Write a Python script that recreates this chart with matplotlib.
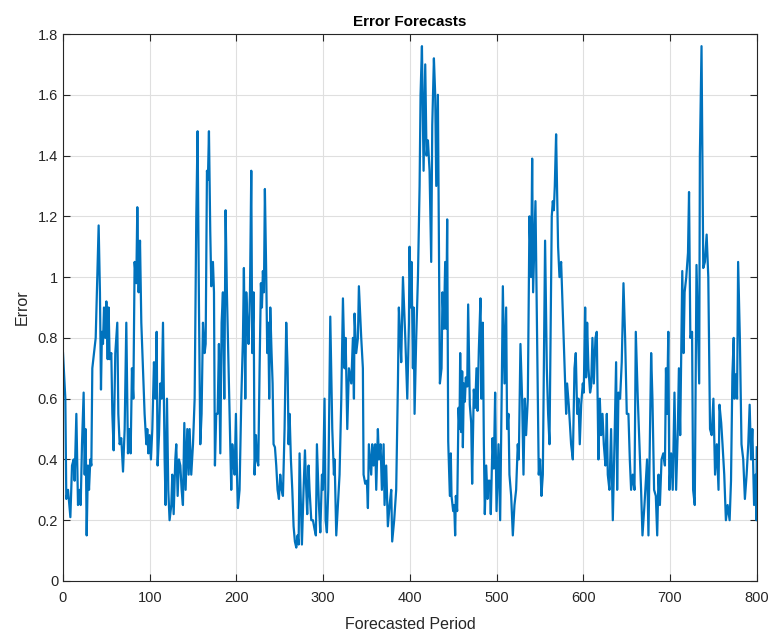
import matplotlib
matplotlib.use("Agg")
import matplotlib.pyplot as plt

# forecast error curve, peaks and troughs
period = [
    0, 2.7, 3.8, 5.8, 8.5, 10.4, 12.3, 13.4, 15.4, 17.3, 19.2, 20.4, 21.9, 23.8, 25.0, 26.1,
    27.3, 28.8, 30.0, 31.5, 32.7, 33.8, 35.7, 37.7, 39.6, 41.1, 42.6, 43.8, 44.9, 46.1, 47.3,
    48.8, 50.0, 51.5, 52.6, 53.8, 55.7, 56.9, 58.4, 60.3, 62.6, 63.8, 65.3, 67.2, 69.2, 71.1,
    73.0, 74.9, 76.8, 78.0, 79.5, 81.1, 82.6, 84.5, 85.7, 87.2, 88.8, 90.3, 92.2,
    94.1, 96.1, 97.2, 98.4, 99.9, 101.4, 103.0, 104.9, 106.4, 108.0, 109.1, 110.7, 112.2,
    113.7, 115.3, 117.2, 118.3, 119.9, 121.4, 122.9, 124.9, 126.0, 127.6, 129.5, 130.6,
    132.2, 133.7, 135.3, 136.8, 138.3, 139.9, 141.4, 143.3, 144.9, 146.0, 147.9, 149.9,
    151.8, 153.7, 155.2, 156.8, 158.3, 159.8, 161.4, 163.3, 164.5, 166.0, 167.1, 168.3,
    169.8, 171.0, 172.9, 174.1, 175.2, 176.7, 178.3, 179.8, 181.4, 182.9, 184.4, 186.0,
    187.5, 189.0, 190.6,
    192.1, 194.0, 195.2, 196.7, 197.9, 199.4, 200.6, 201.7, 203.6, 205.6, 207.5, 208.6,
    210.2, 211.3, 212.5, 214.0, 215.6, 217.1, 218.2, 219.8, 220.9, 222.5, 223.6, 225.2,
    226.7, 228.2, 229.4, 230.5, 231.7, 232.8, 234.4, 235.5, 236.7, 237.8, 239.0, 240.5,
    241.7, 242.8, 244.4, 245.9, 247.4, 249.0, 250.5, 252.1, 253.6, 255.5, 257.4, 259.0,
    260.1, 261.3, 262.8, 264.4, 265.9, 267.4, 269.0, 270.5, 271.7, 272.8, 274.3, 275.5,
    277.4, 279.0, 280.5, 281.6, 283.2, 284.3, 286.3, 288.2, 290.1, 291.6, 292.8,
    295.1, 296.7, 298.6, 299.7, 301.6, 302.8, 304.3, 305.9, 308.2, 310.5, 312.4, 313.2,
    315.1, 318.9, 320.9, 322.8, 324.7, 325.9, 327.8, 329.7, 332.4, 334.3, 335.5, 336.2,
    338.1, 340.1, 341.2, 343.9, 345.8, 346.6, 348.5, 350.4, 351.6, 352.7, 355.4, 356.6,
    358.1, 360.0, 361.2, 363.1, 364.3, 366.2, 367.7, 369.7, 370.8, 372.7, 374.6, 376.6,
    378.5, 379.6, 381.9, 384.2, 386.2, 387.3, 388.9, 390.0, 392.0,
    394.7, 397.0, 398.9, 399.6, 400.8, 401.9, 403.5, 404.3, 405.4, 407.3, 409.3, 411.2,
    412.3, 413.9, 415.8, 417.7, 419.2, 420.8, 422.7, 424.6, 425.8, 427.7, 429.2, 430.4,
    432.3,
    434.6, 436.5, 437.6, 439.2, 440.7, 441.9, 443.0, 444.2, 446.1, 447.2, 448.0, 449.9,
    451.1, 452.2, 453.0, 454.5, 456.1, 457.2, 458.0, 459.1, 460.3, 461.1, 462.2, 463.4,
    464.5, 466.1, 467.2, 469.1, 470.7, 471.8, 473.7, 475.3, 476.8, 478.0, 479.5, 481.4,
    482.6, 484.1, 485.3, 486.4, 488.0, 489.5, 490.6, 492.2, 493.3, 495.3, 496.8, 498.3,
    499.9,
    502.2, 504.1, 506.0, 507.2,
    509.1, 511.0, 512.1, 513.7, 514.8, 516.8, 518.7, 520.6, 522.5, 524.4, 525.6, 527.5,
    529.4, 531.0, 532.5, 534.0, 536.0, 537.9, 539.8, 541.0, 542.1, 544.8, 547.5, 548.6,
    550.2, 551.7, 553.3, 555.9, 557.9, 559.4, 561.0, 563.6, 564.8, 566.0, 567.1, 568.6,
    570.9, 572.5, 574.4, 578.2, 580.2, 581.3, 583.2, 585.9,
    587.9, 589.8, 591.3, 592.9, 594.4, 595.9, 597.5, 599.4, 600.5, 602.1, 603.2, 604.4,
    605.9, 607.8, 609.0, 610.5, 612.1, 614.0, 615.5, 617.4, 619.0, 620.5, 622.1, 623.6,
    625.5, 627.1, 628.2, 630.1, 632.0, 634.0, 635.9, 637.8, 639.0, 640.5, 642.4, 644.3,
    646.3, 648.2, 650.1, 652.0, 653.6, 655.1, 657.0, 659.0, 660.5, 662.8, 664.7, 666.6,
    668.2, 670.5, 673.5, 675.1, 678.2, 679.7, 681.6, 683.6, 685.2, 686.7, 688.3, 690.2,
    692.2, 694.1, 695.3, 696.5, 698.0, 699.2, 701.2, 703.1, 705.1, 707.0, 709.0, 710.2,
    711.7, 714.1, 715.6, 716.8, 718.7, 720.7, 721.9, 723.4, 725.4, 726.6, 728.5, 730.5,
    732.4, 733.6, 734.4, 736.3, 738.3, 740.2, 742.2, 744.1, 746.1, 748.0, 750.0, 751.9,
    753.9, 755.9, 757.0, 759.0, 760.5, 762.5, 764.4, 766.4, 768.7, 770.3, 771.9, 773.4,
    774.2, 775.8, 777.3, 778.5, 780.5, 782.4, 784.4, 786.3, 788.3, 790.2, 791.8, 793.4,
    794.9, 796.1, 796.9, 798.8, 799.6, 800,
]

error = [
    0.75, 0.6, 0.27, 0.3, 0.21, 0.38, 0.4, 0.33, 0.55, 0.25, 0.3, 0.25, 0.45, 0.62, 0.35, 0.5,
    0.15, 0.38, 0.3, 0.4, 0.38, 0.7, 0.75, 0.8, 1.0, 1.17, 0.95, 0.63, 0.82, 0.78, 0.9,
    0.8, 0.92, 0.73, 0.9, 0.73, 0.75, 0.55, 0.43, 0.75, 0.85, 0.55, 0.45, 0.47, 0.36, 0.5,
    0.85, 0.42, 0.5, 0.42, 0.7, 0.6, 1.05, 0.98, 1.23, 0.95, 1.12, 0.85, 0.7,
    0.55, 0.45, 0.5, 0.42, 0.48, 0.4, 0.5, 0.72, 0.6, 0.82, 0.38, 0.48, 0.65,
    0.6, 0.85, 0.4, 0.25, 0.6, 0.3, 0.2, 0.25, 0.35, 0.22, 0.4, 0.45,
    0.28, 0.4, 0.38, 0.3, 0.25, 0.52, 0.3, 0.5, 0.35, 0.5, 0.35, 0.45,
    0.6, 1.2, 1.48, 0.9, 0.45, 0.55, 0.85, 0.75, 0.78, 1.35, 1.32, 1.48,
    1.15, 0.97, 1.05, 0.95, 0.38, 0.55, 0.55, 0.78, 0.42, 0.85, 0.95, 0.6,
    1.22, 0.95, 0.75,
    0.55, 0.3, 0.45, 0.38, 0.35, 0.55, 0.35, 0.24, 0.3, 0.6, 0.8, 1.03,
    0.6, 0.95, 0.85, 0.78, 0.95, 1.35, 0.75, 0.95, 0.35, 0.48, 0.4, 0.38,
    0.7, 0.98, 0.9, 1.02, 0.95, 1.29, 1.0, 0.75, 0.85, 0.6, 0.9, 0.75,
    0.65, 0.45, 0.44, 0.38, 0.3, 0.27, 0.35, 0.3, 0.28, 0.5, 0.85, 0.7,
    0.45, 0.55, 0.4, 0.3, 0.18, 0.13, 0.11, 0.15, 0.12, 0.42, 0.25, 0.12,
    0.3, 0.43, 0.3, 0.22, 0.38, 0.3, 0.2, 0.2, 0.17, 0.15, 0.45,
    0.25, 0.16, 0.35, 0.3, 0.6, 0.2, 0.16, 0.3, 0.87, 0.5, 0.35, 0.4,
    0.15, 0.35, 0.6, 0.93, 0.7, 0.8, 0.5, 0.7, 0.65, 0.8, 0.6, 0.88,
    0.75, 0.8, 0.97, 0.8, 0.7, 0.35, 0.32, 0.33, 0.24, 0.45, 0.35, 0.45,
    0.38, 0.45, 0.3, 0.5, 0.4, 0.45, 0.3, 0.45, 0.25, 0.38, 0.18, 0.25,
    0.3, 0.13, 0.2, 0.3, 0.65, 0.9, 0.8, 0.72, 1.0,
    0.8, 0.6, 0.85, 1.1, 0.9, 1.05, 0.7, 0.9, 0.55, 0.8, 1.0, 1.3,
    1.6, 1.76, 1.35, 1.7, 1.4, 1.45, 1.35, 1.05, 1.5, 1.72, 1.6, 1.3,
    1.6,
    0.65, 0.7, 0.95, 0.83, 1.05, 0.83, 1.19, 0.46, 0.28, 0.42, 0.28, 0.23,
    0.25, 0.15, 0.28, 0.23, 0.57, 0.5, 0.75, 0.49, 0.69, 0.44, 0.65, 0.59,
    0.67, 0.64, 0.91, 0.58, 0.52, 0.32, 0.63, 0.57, 0.7, 0.56, 0.76, 0.93,
    0.6, 0.85, 0.45, 0.22, 0.38, 0.27, 0.33, 0.33, 0.22, 0.47, 0.37, 0.62,
    0.23,
    0.45, 0.2, 0.65, 0.97,
    0.65, 0.9, 0.5, 0.55, 0.35, 0.28, 0.15, 0.25, 0.3, 0.45, 0.4, 0.78,
    0.6, 0.35, 0.6, 0.48, 0.6, 1.2, 1.0, 1.39, 0.95, 1.25, 0.6, 0.35,
    0.4, 0.28, 0.35, 1.12, 0.7, 0.55, 0.45, 1.2, 1.25, 1.22, 1.3, 1.47,
    1.1, 1.0, 1.05, 0.72, 0.55, 0.65, 0.58, 0.45,
    0.4, 0.7, 0.75, 0.55, 0.6, 0.45, 0.58, 0.65, 0.62, 0.9, 0.67, 0.85,
    0.7, 0.62, 0.64, 0.8, 0.65, 0.8, 0.82, 0.4, 0.6, 0.48, 0.55, 0.45,
    0.38, 0.55, 0.35, 0.3, 0.5, 0.2, 0.45, 0.72, 0.3, 0.62, 0.6, 0.72,
    0.98, 0.8, 0.55, 0.55, 0.4, 0.3, 0.35, 0.3, 0.82, 0.6, 0.45, 0.3,
    0.15, 0.25, 0.4, 0.15, 0.75, 0.6, 0.3, 0.28, 0.15, 0.35, 0.25, 0.4,
    0.42, 0.38, 0.7, 0.55, 0.82, 0.3, 0.42, 0.3, 0.62, 0.3, 0.5, 0.7,
    0.48, 1.02, 0.75, 0.95, 1.0, 1.08, 1.28, 0.8, 0.82, 0.3, 0.25, 1.04,
    0.8, 0.65, 1.4, 1.76, 1.03, 1.05, 1.14, 1.0, 0.5, 0.48, 0.6, 0.35,
    0.45, 0.3, 0.58, 0.52, 0.45, 0.35, 0.2, 0.25, 0.2, 0.33, 0.68, 0.8,
    0.6, 0.68, 0.6, 1.05, 0.8, 0.45, 0.4, 0.27, 0.35, 0.45, 0.58, 0.4,
    0.5, 0.35, 0.25, 0.35, 0.2, 0.44,
]

x_ticks = [0, 100, 200, 300, 400, 500, 600, 700, 800]
y_ticks = [0, 0.2, 0.4, 0.6, 0.8, 1.0, 1.2, 1.4, 1.6, 1.8]
y_tick_labels = ['0', '0.2', '0.4', '0.6', '0.8', '1', '1.2', '1.4', '1.6', '1.8']

plt.rcParams['font.family'] = ['Liberation Sans', 'DejaVu Sans']

fig = plt.figure(figsize=(7.73, 6.32), dpi=100)
ax = fig.add_axes([0.0815, 0.0807, 0.8975, 0.8655])

ax.plot(period, error, color='#0072BD', linewidth=1.6)

ax.set_xlim(0, 800)
ax.set_ylim(0, 1.8)
ax.set_xticks(x_ticks)
ax.set_yticks(y_ticks)
ax.set_yticklabels(y_tick_labels)

# matlab look: inward ticks on every side, light grid, dark-gray box
ax.grid(True, color='#dfdfdf', linewidth=0.8)
ax.set_axisbelow(True)
ax.tick_params(direction='in', top=True, right=True, length=5,
               colors='#262626', labelsize=10.5, width=0.8)
ax.tick_params(axis='x', pad=7.5)
for s in ax.spines.values():
    s.set_color('#262626')
    s.set_linewidth(0.8)

ax.set_title('Error Forecasts', fontsize=11, fontweight='bold', color='#000000', pad=6)
ax.set_xlabel('Forecasted Period', fontsize=11.5, color='#262626', labelpad=8)
ax.set_ylabel('Error', fontsize=11.5, color='#262626', labelpad=6)

fig.savefig('out.png', dpi=100)
